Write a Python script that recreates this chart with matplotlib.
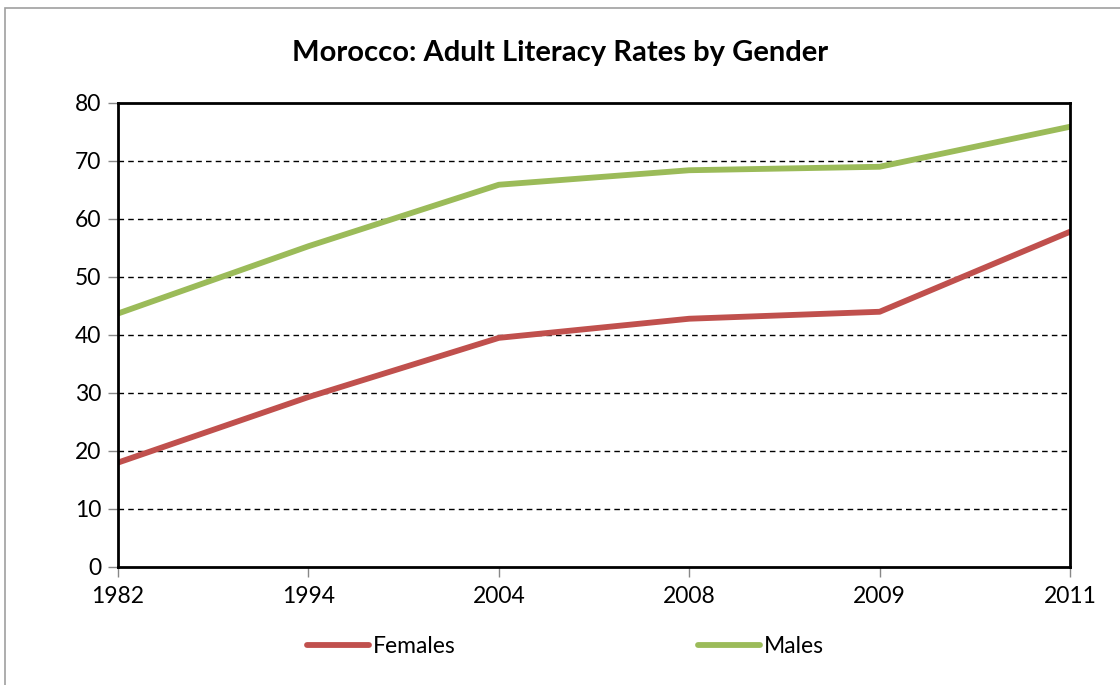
import numpy as np
import matplotlib.pyplot as plt
from matplotlib.patches import Rectangle

years = ['1982', '1994', '2004', '2008', '2009', '2011']
females = [18.0, 29.3, 39.5, 42.8, 44.0, 57.8]
males = [43.7, 55.3, 65.9, 68.4, 69.0, 75.9]

plt.rcParams['font.family'] = ['Lato', 'DejaVu Sans']

fig = plt.figure(figsize=(11.2, 6.85), dpi=100)
ax = fig.add_axes([0.1054, 0.1723, 0.85, 0.6774])

# light frame around the chart area
fig.patches.append(Rectangle((5 / 1120, -0.1), 1.2, (685 - 8) / 685 + 0.1,
                             transform=fig.transFigure, fill=False,
                             edgecolor='#a0a0a0', linewidth=1.2))

x = np.arange(len(years))
ax.plot(x, females, color='#C0504D', lw=4.2, label='Females', solid_capstyle='round')
ax.plot(x, males, color='#9BBB59', lw=4.2, label='Males', solid_capstyle='round')

ax.set_xlim(0, len(years) - 1)
ax.set_ylim(0, 80)
ax.set_yticks(range(0, 81, 10))
ax.set_xticks(x)
ax.set_xticklabels(years)

for y in range(10, 80, 10):
    ax.axhline(y, color='black', lw=1, ls=(0, (4, 3)), zorder=0)

for s in ax.spines.values():
    s.set_linewidth(2)
    s.set_color('black')

ax.tick_params(axis='both', direction='out', length=7, width=1, color='#888888',
               labelsize=16.5, colors='#888888', labelcolor='black')
ax.tick_params(axis='x', pad=7)
ax.tick_params(axis='y', pad=5)

fig.text(0.5, 0.922, 'Morocco: Adult Literacy Rates by Gender', ha='center', va='center',
         fontsize=21, fontweight='bold')

fig.legend(loc='center', bbox_to_anchor=(0.505, 0.056), ncol=2, frameon=False,
           fontsize=16.5, handlelength=2.7, columnspacing=10.6, handletextpad=0.15)

fig.savefig('out.png', dpi=100)
